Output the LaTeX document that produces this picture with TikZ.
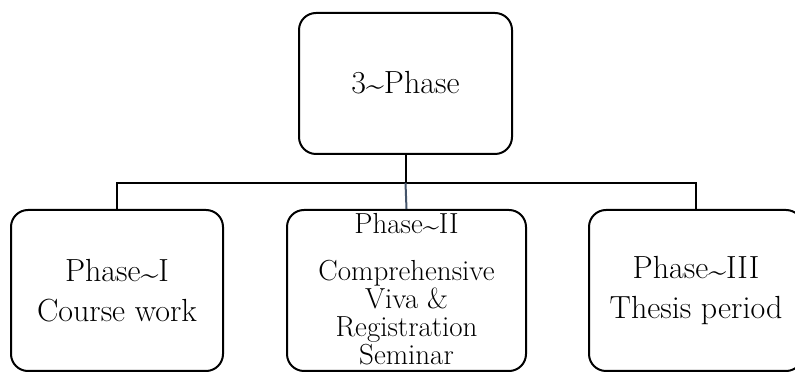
\documentclass[tikz,border=0pt]{standalone}
\usepackage{fontspec}
\setmainfont{Latin Modern Roman}
\usetikzlibrary{positioning}
\definecolor{linkgray}{HTML}{44546A}
\tikzset{
      base/.style = {draw, line width=2pt, rounded corners=17pt, % <--- all boxes
                     align=center, font=\fontsize{32}{40}\selectfont},
   topbox/.style = {base, minimum width=213pt, minimum height=141pt},
 phasebox/.style = {base, minimum width=212pt, minimum height=161pt},
      link/.style = {line width=2pt},
        }
\newcommand{\tld}{\raisebox{-0.2ex}{\textasciitilde}}

\begin{document}
\begin{tikzpicture}[x=1pt,y=1pt]
\useasboundingbox (0,0) rectangle (795,374);
\node[topbox] (top) at (405.5,290.5) {3\tld Phase};
\node[phasebox] (p1) at (117,83.5) {Phase\tld I\\Course work};
\node[phasebox,minimum width=239pt] (p2) at (406.5,83.5) {};
\node[phasebox,minimum width=214pt] (p3) at (696,83.5) {Phase\tld III\\Thesis period};
% text of the middle box, hung from its top
\node[anchor=north,inner sep=0pt,align=center,font=\fontsize{29}{28}\selectfont]
  (p2text) at ([yshift=-4pt]p2.north)
  {Phase\tld II\\[19pt]Comprehensive\\Viva \&\\Registration\\Seminar};
\coordinate (bus) at ([yshift=-28pt]top.south);
\draw[link] (top.south) -- (bus);
\draw[link] (p1.north) |- (bus) -| (p3.north);
\draw[link,linkgray] (bus) -- (p2.north);
\end{tikzpicture}
\end{document}
